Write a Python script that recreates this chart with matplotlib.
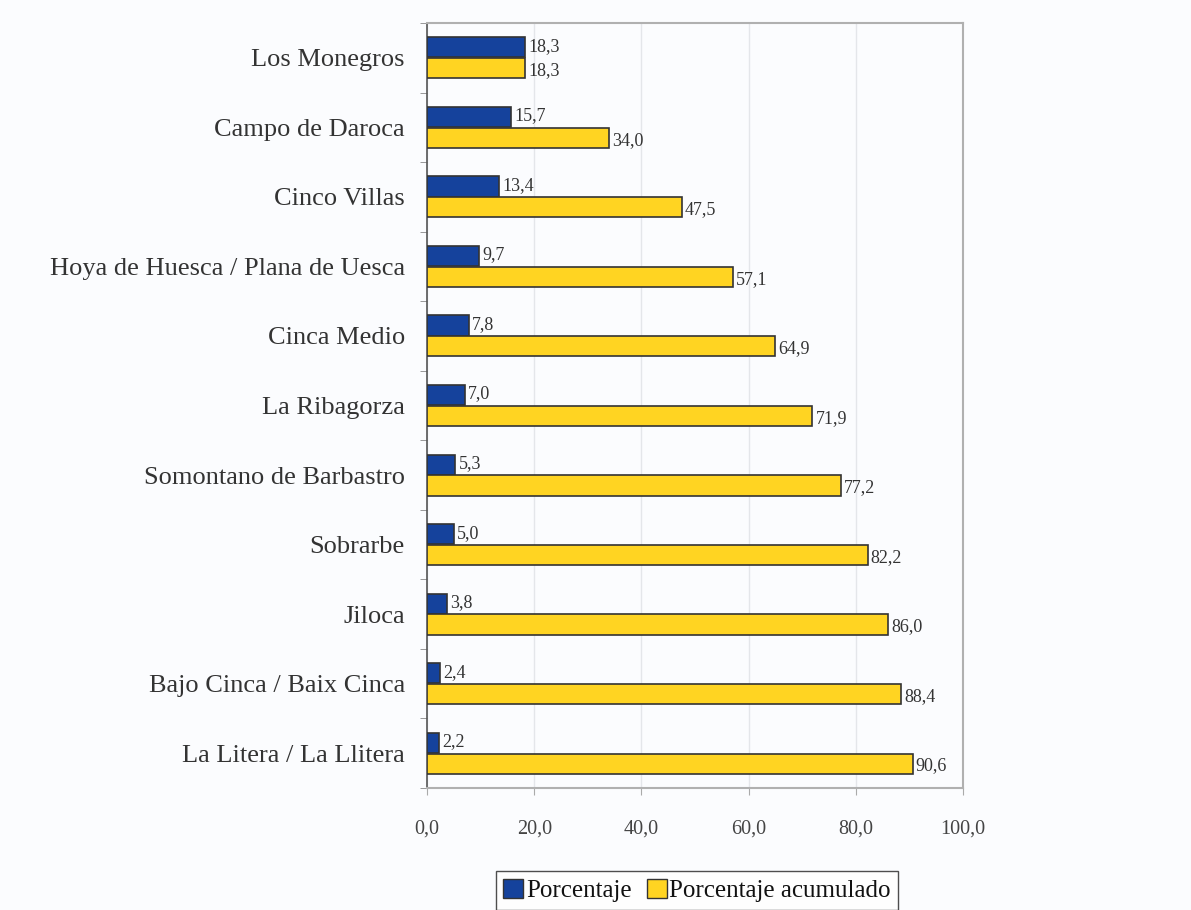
import matplotlib
matplotlib.use("Agg")
import matplotlib.pyplot as plt
import numpy as np

categories = ["Los Monegros", "Campo de Daroca", "Cinco Villas",
              "Hoya de Huesca / Plana de Uesca", "Cinca Medio", "La Ribagorza",
              "Somontano de Barbastro", "Sobrarbe", "Jiloca",
              "Bajo Cinca / Baix Cinca", "La Litera / La Llitera"]
porcentaje = [18.3, 15.7, 13.4, 9.7, 7.8, 7.0, 5.3, 5.0, 3.8, 2.4, 2.2]
acumulado = [18.3, 34.0, 47.5, 57.1, 64.9, 71.9, 77.2, 82.2, 86.0, 88.4, 90.6]
xticks = [0, 20, 40, 60, 80, 100]
xticklabels = ["0,0", "20,0", "40,0", "60,0", "80,0", "100,0"]

plt.rcParams['font.family'] = ['Liberation Serif', 'DejaVu Serif']
bg = '#fbfcfe'
fig = plt.figure(figsize=(11.91, 9.10), dpi=100, facecolor=bg)
ax = fig.add_axes([427/1191, 1-788/910, (963-427)/1191, (788-23)/910])
ax.set_facecolor(bg)

n = len(categories)
y = np.arange(n)
h = 0.29
blue = '#15429c'
yellow = '#ffd422'
ax.barh(y - h/2 - 0.005, porcentaje, height=h, color=blue, edgecolor='#333333', linewidth=1.2, zorder=3)
ax.barh(y + h/2 + 0.005, acumulado, height=h, color=yellow, edgecolor='#333333', linewidth=1.2, zorder=3)

for i in range(n):
    ax.text(porcentaje[i] + 0.6, y[i] - h/2 - 0.02, f"{porcentaje[i]:.1f}".replace('.', ','),
            va='center', ha='left', fontsize=13, color='#333333')
    ax.text(acumulado[i] + 0.6, y[i] + h/2 + 0.04, f"{acumulado[i]:.1f}".replace('.', ','),
            va='center', ha='left', fontsize=13, color='#333333')

ax.set_ylim(n - 0.5, -0.5)
ax.set_xlim(0, 100)
ax.set_yticks(y)
ax.set_yticklabels(categories, fontsize=19, color='#333333')
ax.set_yticks(np.arange(n + 1) - 0.5, minor=True)
ax.tick_params(axis='y', which='major', length=0, pad=16)
ax.tick_params(axis='y', which='minor', length=5, color='#888888', direction='out')
ax.set_xticks(xticks)
ax.set_xticklabels(xticklabels, fontsize=14.5, color='#444444')
ax.tick_params(axis='x', length=5, color='#aaaaaa', pad=18)
ax.grid(axis='x', color='#e4e6ea', linewidth=1, zorder=0)
for s in ['top', 'right', 'bottom']:
    ax.spines[s].set_color('#b0b0b0')
    ax.spines[s].set_linewidth(1.5)
ax.spines['left'].set_color('#555555')
ax.spines['left'].set_linewidth(1.2)

from matplotlib.patches import Patch
handles = [Patch(facecolor=blue, edgecolor='#333333', label='Porcentaje'),
           Patch(facecolor=yellow, edgecolor='#333333', label='Porcentaje acumulado')]
leg = fig.legend(handles=handles, loc='lower center', bbox_to_anchor=(697/1191, -12/910),
                 ncol=2, fontsize=18, frameon=True, fancybox=False, edgecolor='#222222',
                 handlelength=0.8, handleheight=0.8, handletextpad=0.1, columnspacing=0.6,
                 borderpad=0.3, labelcolor='#111111')
leg.get_frame().set_linewidth(1.0)
leg.get_frame().set_facecolor('white')

fig.savefig('out.png', dpi=100, facecolor=bg)
